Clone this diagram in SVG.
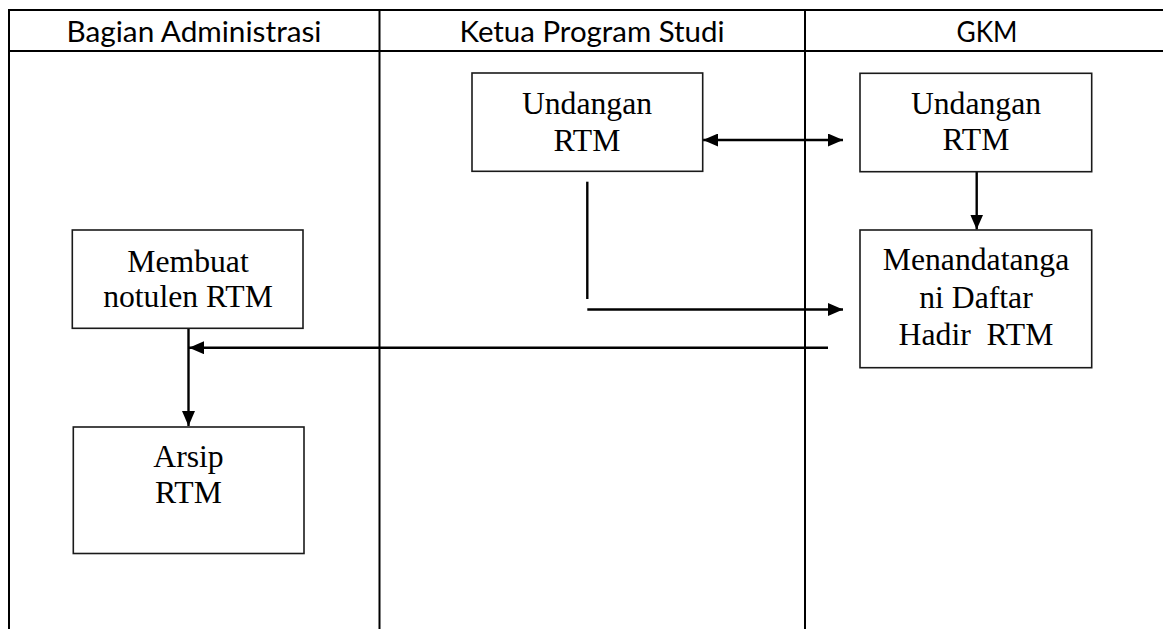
<svg xmlns="http://www.w3.org/2000/svg" width="1163" height="629" viewBox="0 0 1163 629">
  <style>
    .tbl { stroke: #000; stroke-width: 2; fill: none; }
    .hdr { font-family: Lato, "Liberation Sans", sans-serif; font-size: 29px; fill: #000; text-anchor: middle; }
    .box { fill: #fff; stroke: #1a1a1a; stroke-width: 1.6; }
    .lbl { font-family: "Liberation Serif", "Times New Roman", serif; font-size: 31.7px; fill: #000; text-anchor: middle; }
    .con { stroke: #000; stroke-width: 2.4; fill: none; }
  </style>
  <defs>
    <marker id="arr" viewBox="0 0 15 13" refX="15" refY="6.5" markerWidth="15" markerHeight="13" markerUnits="userSpaceOnUse" orient="auto-start-reverse">
      <path d="M0,0 L15,6.5 L0,13 z" fill="#000"/>
    </marker>
  </defs>
  <rect width="1163" height="629" fill="#fff"/>

  <g id="table">
    <line class="tbl" x1="8" y1="10" x2="1163" y2="10"/>
    <line class="tbl" x1="8" y1="51" x2="1163" y2="51"/>
    <line class="tbl" x1="9" y1="9" x2="9" y2="629"/>
    <line class="tbl" x1="379.5" y1="10" x2="379.5" y2="629"/>
    <line class="tbl" x1="805" y1="10" x2="805" y2="629"/>
    <text class="hdr" x="194" y="42" textLength="255" lengthAdjust="spacingAndGlyphs">Bagian Administrasi</text>
    <text class="hdr" x="592" y="42" textLength="265" lengthAdjust="spacingAndGlyphs">Ketua Program Studi</text>
    <text class="hdr" x="987" y="42" textLength="61" lengthAdjust="spacingAndGlyphs">GKM</text>
  </g>

  <g id="connectors">
    <line class="con" x1="703" y1="140" x2="843" y2="140" marker-start="url(#arr)" marker-end="url(#arr)"/>
    <line class="con" x1="976.7" y1="171.7" x2="976.7" y2="229.5" marker-end="url(#arr)"/>
    <line class="con" x1="587.3" y1="181.7" x2="587.3" y2="299"/>
    <line class="con" x1="587.3" y1="309.5" x2="843" y2="309.5" marker-end="url(#arr)"/>
    <line class="con" x1="828" y1="347.7" x2="189" y2="347.7" marker-end="url(#arr)"/>
    <line class="con" x1="188.5" y1="328.5" x2="188.5" y2="426" marker-end="url(#arr)"/>
  </g>

  <g id="node-kps-undangan">
    <rect class="box" x="472" y="73" width="230.7" height="98.3"/>
    <text class="lbl" x="587" y="114">Undangan</text>
    <text class="lbl" x="587" y="151">RTM</text>
  </g>

  <g id="node-gkm-undangan">
    <rect class="box" x="860" y="73.3" width="231.7" height="98.4"/>
    <text class="lbl" x="976" y="113.5">Undangan</text>
    <text class="lbl" x="976" y="150">RTM</text>
  </g>

  <g id="node-menandatangani">
    <rect class="box" x="860" y="230" width="231.7" height="137.7"/>
    <text class="lbl" x="976" y="270">Menandatanga</text>
    <text class="lbl" x="976" y="307.5">ni Daftar</text>
    <text class="lbl" x="976" y="345" xml:space="preserve">Hadir  RTM</text>
  </g>

  <g id="node-membuat">
    <rect class="box" x="72.3" y="230" width="230.7" height="98.3"/>
    <text class="lbl" x="188" y="271.7">Membuat</text>
    <text class="lbl" x="188" y="307.3">notulen RTM</text>
  </g>

  <g id="node-arsip">
    <rect class="box" x="73.3" y="427" width="230.7" height="126.5"/>
    <text class="lbl" x="188.5" y="466.7">Arsip</text>
    <text class="lbl" x="188.5" y="503.3">RTM</text>
  </g>
</svg>
